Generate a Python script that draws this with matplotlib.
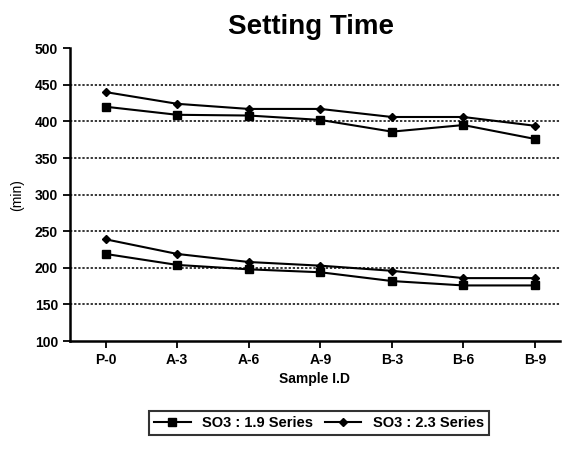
import matplotlib
matplotlib.use("Agg")
import matplotlib.pyplot as plt

samples = ["P-0", "A-3", "A-6", "A-9", "B-3", "B-6", "B-9"]
# upper group (final setting) and lower group (initial setting)
so3_19_final = [420, 409, 408, 402, 386, 395, 376]
so3_23_final = [440, 424, 417, 417, 406, 406, 394]
so3_19_initial = [219, 204, 198, 194, 182, 176, 176]
so3_23_initial = [239, 219, 208, 203, 196, 186, 186]
yticks = [100, 150, 200, 250, 300, 350, 400, 450, 500]

plt.rcParams["font.family"] = ["Liberation Sans", "DejaVu Sans"]

fig = plt.figure(figsize=(5.68, 4.5), dpi=100)
ax = fig.add_axes([0.123, 0.242, 0.863, 0.651])

x = list(range(len(samples)))
l1, = ax.plot(x, so3_19_final, color="black", lw=1.5, marker="s", ms=6,
              label="SO3 : 1.9 Series")
l2, = ax.plot(x, so3_23_final, color="black", lw=1.5, marker="D", ms=4,
              label="SO3 : 2.3 Series")
ax.plot(x, so3_19_initial, color="black", lw=1.5, marker="s", ms=6)
ax.plot(x, so3_23_initial, color="black", lw=1.5, marker="D", ms=4)

for y in yticks[1:-1]:
  ax.axhline(y, color="black", lw=1.1, ls=(0, (1.5, 1.2)), zorder=0)

ax.set_ylim(100, 500)
ax.set_xlim(-0.5, 6.35)
ax.set_yticks(yticks)
ax.set_xticks(x)
ax.set_xticklabels(samples)
ax.tick_params(direction="out", length=5, width=1.3, labelsize=10, colors="black")
for lab in ax.get_xticklabels() + ax.get_yticklabels():
  lab.set_fontweight("bold")
for s in ["top", "right"]:
  ax.spines[s].set_visible(False)
for s in ["left", "bottom"]:
  ax.spines[s].set_linewidth(1.8)

ax.set_xlabel("Sample I.D", fontsize=10, fontweight="bold", labelpad=4)
ax.set_ylabel("(min)", fontsize=10, labelpad=8)
fig.suptitle("Setting Time", fontsize=20, fontweight="bold", y=0.97, x=0.548)

leg = fig.legend(handles=[l1, l2], loc="center", bbox_to_anchor=(0.562, 0.06),
                 ncol=2, frameon=True, fancybox=False, edgecolor="black",
                 prop={"size": 10.5, "weight": "bold"}, handlelength=2.5,
                 columnspacing=0.8, borderpad=0.35)
leg.get_frame().set_linewidth(1.5)

fig.savefig("out.png", dpi=100)
